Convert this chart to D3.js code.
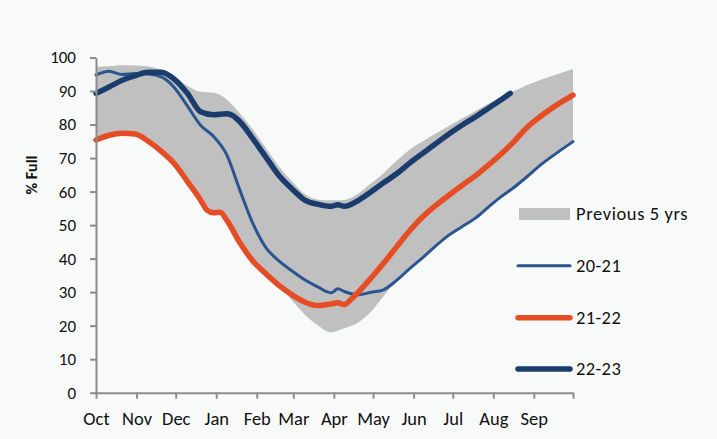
<!DOCTYPE html>
<html>
<head>
<meta charset="utf-8">
<script src="https://cdn.jsdelivr.net/npm/d3@7"></script>
<style>
  body { margin: 0; background: #f8f9f9; }
  svg { display: block; }
  text { font-family: Carlito, Calibri, Lato, "Noto Sans", sans-serif; fill: #111; }
</style>
</head>
<body>
<svg id="chart" width="717" height="439"></svg>
<script>
const months = ["Oct", "Nov", "Dec", "Jan", "Feb", "Mar", "Apr", "May", "Jun", "Jul", "Aug", "Sep"];
const monthLengths = [31, 30, 31, 31, 28, 31, 30, 31, 30, 31, 31, 30];
const yTicks = [0, 10, 20, 30, 40, 50, 60, 70, 80, 90, 100];

// days since Oct 1
const bandDays = [0, 10, 20, 30, 40, 50, 60, 70, 80, 90, 100, 110, 120, 130, 140, 150, 160, 170, 180, 190,
  200, 210, 220, 230, 240, 250, 260, 270, 280, 290, 300, 310, 320, 330, 340, 350, 365];
const bandMax = [97.2, 97.4, 97.7, 97.6, 97.3, 96.3, 94.3, 91.5, 89.8, 89.5, 87.5, 83.4, 78.5, 73, 67.5, 63, 59.2, 57.6, 57.4, 57.5,
  59.2, 62.3, 65.5, 69.2, 72.5, 75, 77.3, 79.6, 81.8, 84, 86.2, 88.3, 90, 91.8, 93.3, 94.6, 96.6];
const bandMin = [75.7, 77.1, 77.7, 77.5, 75.3, 72.3, 68.6, 63.3, 57.8, 54, 51.8, 45.1, 39.6, 35.8, 32.3, 27.5, 23.2, 20, 18, 19.2,
  20.8, 24, 28.8, 33.5, 36.7, 40, 43.5, 46.7, 49.2, 51.7, 55, 58.2, 61, 64.2, 67.6, 70.5, 74.6];

const days2021 = [0, 10, 20, 30, 40, 50, 60, 70, 80, 90, 100, 110, 120, 130, 140, 150, 160, 170, 180, 185, 190,
  200, 210, 220, 230, 240, 250, 260, 270, 280, 290, 300, 310, 320, 330, 340, 350, 365];
const pct2021 = [94.8, 95.9, 94.9, 95.2, 95.1, 94.2, 91, 85.5, 79.8, 76.4, 71, 60.5, 50.5, 43.3, 39.3, 36.3, 33.6, 31.5, 29.8, 31, 30.2,
  29.2, 29.9, 30.7, 33.5, 37, 40.3, 43.8, 47, 49.5, 52, 55.3, 58.5, 61.3, 64.5, 67.9, 70.8, 74.9];

const days2122 = [0, 10, 20, 30, 40, 50, 60, 70, 80, 85, 90, 95, 100, 110, 120, 130, 140, 150, 160, 170, 180, 185, 190,
  195, 200, 210, 220, 230, 240, 250, 260, 270, 280, 290, 300, 310, 320, 330, 340, 350, 365];
const pct2122 = [75.4, 76.8, 77.4, 77.2, 75, 72, 68.3, 63, 57.5, 54.5, 53.7, 53.8, 51.5, 44.8, 39.3, 35.5, 32, 29.2, 27, 26, 26.5, 26.8, 26.3,
  27.8, 29.7, 34, 38.6, 43.5, 48.3, 52.5, 55.9, 58.9, 61.8, 64.6, 67.8, 71.2, 75, 79.2, 82.4, 85.2, 88.8];

const days2223 = [0, 10, 20, 30, 40, 50, 60, 70, 80, 90, 100, 105, 110, 120, 130, 140, 150, 160, 170, 180, 185, 190,
  200, 210, 220, 230, 240, 250, 260, 270, 280, 290, 300, 310, 317];
const pct2223 = [89.3, 91.2, 93.2, 94.6, 95.6, 95.6, 93.5, 89.3, 83.8, 82.9, 83.2, 82.6, 80.9, 75.8, 70.3, 64.8, 60.8, 57.4, 56.2, 55.6, 56.1, 55.6,
  57.2, 59.8, 62.6, 65.3, 68.5, 71.4, 74.3, 77.2, 79.8, 82.2, 84.8, 87.4, 89.3];

const seriesNames = ["20-21", "21-22", "22-23"];
const seriesColors = ["#2b5590", "#e64d25", "#1b3d6d"];
const seriesWidths = [3, 5.5, 5.5];
const bandLabel = "Previous 5 yrs";

const svg = d3.select("#chart");
svg.append("rect").attr("width", 717).attr("height", 439).attr("fill", "#f8f9f9");

const x = d3.scaleLinear().domain([0, 365]).range([96, 573]);
const y = d3.scaleLinear().domain([0, 100]).range([392.7, 57.5]);

const monthStarts = d3.cumsum([0].concat(monthLengths));

// band of previous years
const bandData = bandDays.map((d, i) => ({ d, lo: bandMin[i], hi: bandMax[i] }));
svg.append("path")
  .datum(bandData)
  .attr("fill", "#c0c0c0")
  .attr("d", d3.area().x(p => x(p.d)).y0(p => y(p.lo)).y1(p => y(p.hi)).curve(d3.curveMonotoneX));

const seriesData = [
  days2021.map((d, i) => ({ d, v: pct2021[i] })),
  days2122.map((d, i) => ({ d, v: pct2122[i] })),
  days2223.map((d, i) => ({ d, v: pct2223[i] }))
];

const line = d3.line().x(p => x(p.d)).y(p => y(p.v)).curve(d3.curveMonotoneX);

seriesData.forEach((data, i) => {
  svg.append("path")
    .datum(data)
    .attr("fill", "none")
    .attr("stroke", seriesColors[i])
    .attr("stroke-width", seriesWidths[i])
    .attr("stroke-linecap", "round")
    .attr("stroke-linejoin", "round")
    .attr("d", line);
});

// axes
const yAxis = svg.append("g")
  .attr("transform", `translate(${x(0)},0)`)
  .call(d3.axisLeft(y).tickValues(yTicks).tickSize(6).tickPadding(14).tickSizeOuter(0));
yAxis.selectAll(".tick text").attr("font-size", 17);

const xAxis = svg.append("g")
  .attr("transform", `translate(0,${y(0)})`)
  .call(d3.axisBottom(x).tickValues(monthStarts).tickSize(6).tickPadding(13).tickSizeOuter(0)
    .tickFormat((d, i) => months[i] || ""));
xAxis.selectAll(".tick text").attr("font-size", 18.5);

[yAxis, xAxis].forEach(g => {
  g.select(".domain").attr("stroke", "#8c8c8c").attr("stroke-width", 2);
  g.selectAll(".tick line").attr("stroke", "#8c8c8c").attr("stroke-width", 2);
  g.selectAll(".tick text").attr("fill", "#111");
});

svg.append("text")
  .attr("transform", "translate(37,175) rotate(-90)")
  .attr("text-anchor", "middle")
  .attr("font-size", 16)
  .attr("font-weight", "bold")
  .text("% Full");

// legend
const legend = svg.append("g");
legend.append("rect").attr("x", 519).attr("y", 208).attr("width", 51).attr("height", 12).attr("fill", "#c0c0c0");
legend.append("text").attr("x", 576).attr("y", 214).attr("dy", "0.35em")
  .attr("font-size", 18.5).attr("letter-spacing", 0.6).text(bandLabel);

const legendY = [265.7, 317.7, 369];
seriesNames.forEach((name, i) => {
  legend.append("line")
    .attr("x1", 518).attr("x2", 570)
    .attr("y1", legendY[i]).attr("y2", legendY[i])
    .attr("stroke", seriesColors[i])
    .attr("stroke-width", seriesWidths[i])
    .attr("stroke-linecap", "round");
  legend.append("text").attr("x", 576).attr("y", legendY[i]).attr("dy", "0.35em")
    .attr("font-size", 18.5).attr("letter-spacing", 0.4).text(name);
});
</script>
</body>
</html>
